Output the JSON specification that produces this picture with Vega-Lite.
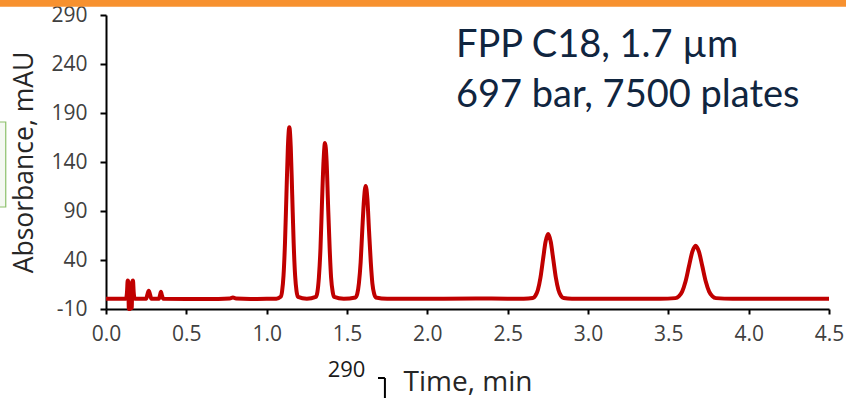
{
  "$schema": "https://vega.github.io/schema/vega-lite/v6.json",
  "width": 723,
  "height": 294,
  "autosize": {"type": "none"},
  "padding": {"left": 106, "top": 15, "right": 17, "bottom": 89},
  "background": "white",
  "config": {"view": {"stroke": null}, "font": "Open Sans"},
  "datasets": {
    "trace": [
      {"t": 0.0, "a": 0.5}, {"t": 0.05, "a": 0.5}, {"t": 0.1, "a": 0.5}, {"t": 0.125, "a": 0.5},
      {"t": 0.131, "a": 8}, {"t": 0.135, "a": 19}, {"t": 0.139, "a": 18}, {"t": 0.142, "a": -10},
      {"t": 0.147, "a": 5}, {"t": 0.15, "a": -10}, {"t": 0.155, "a": 5}, {"t": 0.16, "a": -9},
      {"t": 0.164, "a": 18}, {"t": 0.168, "a": 19}, {"t": 0.172, "a": 8}, {"t": 0.178, "a": 0.5},
      {"t": 0.25, "a": 0.5}, {"t": 0.258, "a": 5}, {"t": 0.266, "a": 8.5}, {"t": 0.274, "a": 5}, {"t": 0.282, "a": 0.5},
      {"t": 0.33, "a": 0.5}, {"t": 0.336, "a": 4}, {"t": 0.342, "a": 7.5}, {"t": 0.348, "a": 4}, {"t": 0.356, "a": 0.5},
      {"t": 0.5, "a": 0.3}, {"t": 0.7, "a": 0.3}, {"t": 0.77, "a": 0.6}, {"t": 0.79, "a": 1.8}, {"t": 0.81, "a": 0.6},
      {"t": 0.9, "a": 0.3}, {"t": 1.0, "a": 0.4}, {"t": 1.06, "a": 0.5},
      {"t": 1.087, "a": 2.4}, {"t": 1.096, "a": 8.2}, {"t": 1.105, "a": 24.2}, {"t": 1.114, "a": 57.3},
      {"t": 1.123, "a": 106.6}, {"t": 1.132, "a": 154.9}, {"t": 1.141, "a": 175.5}, {"t": 1.15, "a": 154.9},
      {"t": 1.159, "a": 106.6}, {"t": 1.168, "a": 57.3}, {"t": 1.177, "a": 24.2}, {"t": 1.186, "a": 8.2}, {"t": 1.195, "a": 2.4},
      {"t": 1.25, "a": 0.5},
      {"t": 1.306, "a": 2.3}, {"t": 1.316, "a": 7.5}, {"t": 1.325, "a": 22}, {"t": 1.335, "a": 52.1},
      {"t": 1.344, "a": 96.9}, {"t": 1.354, "a": 140.8}, {"t": 1.363, "a": 159.5}, {"t": 1.373, "a": 140.8},
      {"t": 1.382, "a": 96.9}, {"t": 1.392, "a": 52.1}, {"t": 1.401, "a": 22}, {"t": 1.411, "a": 7.5}, {"t": 1.42, "a": 2.3},
      {"t": 1.48, "a": 0.5},
      {"t": 1.553, "a": 1.8}, {"t": 1.564, "a": 5.5}, {"t": 1.574, "a": 16.1}, {"t": 1.585, "a": 37.8},
      {"t": 1.595, "a": 70.2}, {"t": 1.606, "a": 102}, {"t": 1.616, "a": 115.5}, {"t": 1.627, "a": 102},
      {"t": 1.637, "a": 70.2}, {"t": 1.648, "a": 37.8}, {"t": 1.658, "a": 16.1}, {"t": 1.669, "a": 5.5}, {"t": 1.679, "a": 1.8},
      {"t": 1.75, "a": 0.5}, {"t": 2.0, "a": 0.5}, {"t": 2.3, "a": 0.7}, {"t": 2.5, "a": 0.5}, {"t": 2.6, "a": 0.5},
      {"t": 2.656, "a": 1.2}, {"t": 2.672, "a": 3.4}, {"t": 2.688, "a": 9.4}, {"t": 2.704, "a": 21.9},
      {"t": 2.72, "a": 40.5}, {"t": 2.736, "a": 58.7}, {"t": 2.752, "a": 66.5}, {"t": 2.768, "a": 58.7},
      {"t": 2.784, "a": 40.5}, {"t": 2.8, "a": 21.9}, {"t": 2.816, "a": 9.4}, {"t": 2.832, "a": 3.4}, {"t": 2.848, "a": 1.2},
      {"t": 2.9, "a": 0.5}, {"t": 3.2, "a": 0.5}, {"t": 3.45, "a": 0.5},
      {"t": 3.544, "a": 1.1}, {"t": 3.565, "a": 2.9}, {"t": 3.586, "a": 7.8}, {"t": 3.607, "a": 18},
      {"t": 3.628, "a": 33.3}, {"t": 3.649, "a": 48.2}, {"t": 3.67, "a": 54.5}, {"t": 3.691, "a": 48.2},
      {"t": 3.712, "a": 33.3}, {"t": 3.733, "a": 18}, {"t": 3.754, "a": 7.8}, {"t": 3.775, "a": 2.9}, {"t": 3.796, "a": 1.1},
      {"t": 3.9, "a": 0.5}, {"t": 4.2, "a": 0.5}, {"t": 4.5, "a": 0.5}
    ],
    "notes": [
      {"t": 2.178, "a": 247.1, "label": "FPP C18, 1.7 µm"},
      {"t": 2.178, "a": 196.4, "label": "697 bar, 7500 plates"}
    ],
    "bars": [
      {"t": -0.75, "t2": 4.75, "a": 298.5, "a2": 312}
    ],
    "boxes": [
      {"t": -0.70, "t2": -0.624, "a": 94.1, "a2": 180.8}
    ],
    "stray": [
      {"t": 1.497, "a": -79.1, "label": "290"}
    ],
    "bracket": [
      {"t": 1.693, "t2": 1.736, "a": -80.4, "a2": -80.4},
      {"t": 1.736, "t2": 1.736, "a": -80.4, "a2": -106}
    ]
  },
  "layer": [
    {
      "data": {"name": "trace"},
      "mark": {"type": "line", "color": "#C00000", "strokeWidth": 4, "interpolate": "monotone", "clip": false},
      "encoding": {
        "x": {
          "field": "t", "type": "quantitative",
          "scale": {"domain": [0, 4.5], "nice": false, "zero": false},
          "axis": {
            "title": "Time, min", "values": [0, 0.5, 1, 1.5, 2, 2.5, 3, 3.5, 4, 4.5],
            "format": ".1f", "grid": false,
            "domainColor": "#000000", "domainWidth": 2,
            "tickColor": "#000000", "tickWidth": 2, "tickSize": 5,
            "labelFont": "Open Sans", "labelFontSize": 21, "labelColor": "#404040", "labelPadding": 9,
            "labelFlush": false, "labelOverlap": false,
            "titleFont": "Open Sans", "titleFontSize": 28, "titleFontWeight": "normal", "titleColor": "#262626", "titlePadding": 24
          }
        },
        "y": {
          "field": "a", "type": "quantitative",
          "scale": {"domain": [-10, 290], "nice": false, "zero": false},
          "axis": {
            "title": "Absorbance, mAU", "values": [-10, 40, 90, 140, 190, 240, 290],
            "labelExpr": "datum.value < 0 ? '-' + abs(datum.value) : datum.label",
            "grid": false,
            "domainColor": "#000000", "domainWidth": 2,
            "tickColor": "#000000", "tickWidth": 2, "tickSize": 6,
            "labelFont": "Open Sans", "labelFontSize": 21, "labelColor": "#404040", "labelPadding": 13,
            "labelFlush": false, "labelOverlap": false,
            "titleFont": "Open Sans", "titleFontSize": 26.5, "titleFontWeight": "normal", "titleColor": "#262626", "titlePadding": 12
          }
        }
      }
    },
    {
      "data": {"name": "bars"},
      "mark": {"type": "rect", "color": "#F7912F", "clip": false},
      "encoding": {
        "x": {"field": "t", "type": "quantitative"},
        "x2": {"field": "t2"},
        "y": {"field": "a", "type": "quantitative"},
        "y2": {"field": "a2"}
      }
    },
    {
      "data": {"name": "boxes"},
      "mark": {"type": "rect", "fill": "#F4F8F1", "stroke": "#8CC06A", "strokeWidth": 1.2, "clip": false},
      "encoding": {
        "x": {"field": "t", "type": "quantitative"},
        "x2": {"field": "t2"},
        "y": {"field": "a", "type": "quantitative"},
        "y2": {"field": "a2"}
      }
    },
    {
      "data": {"name": "notes"},
      "mark": {"type": "text", "align": "left", "baseline": "alphabetic", "font": "Lato", "fontSize": 38, "color": "#10253F", "clip": false},
      "encoding": {
        "x": {"field": "t", "type": "quantitative"},
        "y": {"field": "a", "type": "quantitative"},
        "text": {"field": "label"}
      }
    },
    {
      "data": {"name": "stray"},
      "mark": {"type": "text", "align": "center", "baseline": "alphabetic", "font": "Open Sans", "fontSize": 22, "color": "#1a1a1a", "clip": false},
      "encoding": {
        "x": {"field": "t", "type": "quantitative"},
        "y": {"field": "a", "type": "quantitative"},
        "text": {"field": "label"}
      }
    },
    {
      "data": {"name": "bracket"},
      "mark": {"type": "rule", "color": "#000000", "strokeWidth": 2, "clip": false},
      "encoding": {
        "x": {"field": "t", "type": "quantitative"},
        "x2": {"field": "t2"},
        "y": {"field": "a", "type": "quantitative"},
        "y2": {"field": "a2"}
      }
    }
  ]
}
